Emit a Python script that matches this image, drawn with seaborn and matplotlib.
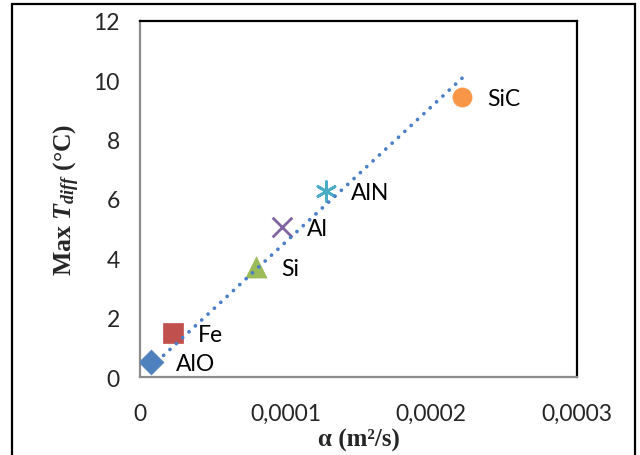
import numpy as np
import pandas as pd
import matplotlib
matplotlib.use("Agg")
import matplotlib.pyplot as plt
from matplotlib.patches import Rectangle
from matplotlib.ticker import FuncFormatter, MultipleLocator
import seaborn as sns

# Thermal diffusivity (m^2/s) and maximum temperature difference (degC)
materials = ["AlO", "Fe", "Si", "Al", "AlN", "SiC"]
alpha = [7.5e-6, 22.4e-6, 79.6e-6, 97.3e-6, 127.7e-6, 221.2e-6]
max_tdiff = [0.52, 1.48, 3.72, 5.05, 6.28, 9.44]

colors = ["#4F81BD", "#C0504D", "#9BBB59", "#8064A2", "#4BACC6", "#F79646"]
markers = ["D", "s", "^", "x", (6, 2, 0), "o"]
marker_sizes = [160, 220, 230, 200, 200, 190]

df = pd.DataFrame({"material": materials, "alpha": alpha, "tdiff": max_tdiff})

sns.set_style("white")
plt.rcParams["font.family"] = ["Lato", "DejaVu Sans"]
plt.rcParams["mathtext.fontset"] = "custom"
plt.rcParams["mathtext.rm"] = "Liberation Serif:bold"
plt.rcParams["mathtext.it"] = "Liberation Serif:italic:bold"
plt.rcParams["mathtext.bf"] = "Liberation Serif:bold"
plt.rcParams["mathtext.bfit"] = "Liberation Serif:italic:bold"

fig = plt.figure(figsize=(6.4, 4.56), dpi=100)
ax = fig.add_axes([140 / 640, 1 - 378.3 / 456, (577 - 140) / 640, (378.3 - 21.7) / 456])

for i, row in df.iterrows():
    line_art = markers[i] == "x" or isinstance(markers[i], tuple)
    sns.scatterplot(
        x=[row["alpha"]], y=[row["tdiff"]], ax=ax,
        marker=markers[i], s=marker_sizes[i],
        color=colors[i],
        edgecolor=colors[i] if not line_art else None,
        linewidth=2.0 if line_art else 0.5,
        legend=False, zorder=3,
    )
    ax.annotate(row["material"], (row["alpha"], row["tdiff"]),
                xytext=(18, -1), textcoords="offset points",
                ha="left", va="center", fontsize=16.5, color="black",
                family=["Lato", "DejaVu Sans"])

# Linear trend forced through the origin, drawn over the data range
x_arr = np.asarray(alpha)
y_arr = np.asarray(max_tdiff)
slope = np.sum(x_arr * y_arr) / np.sum(x_arr ** 2)
trend_x = np.array([x_arr.min(), x_arr.max()])
ax.plot(trend_x, slope * trend_x, color="#4A7EC8", lw=2.7,
        linestyle=(0, (0.01, 2.3)), dash_capstyle="round", zorder=4)

ax.set_xlim(0, 0.0003)
ax.set_ylim(0, 12)
ax.xaxis.set_major_locator(MultipleLocator(0.0001))
ax.yaxis.set_major_locator(MultipleLocator(2))


def comma_fmt(v, pos):
    if abs(v) < 1e-12:
        return "0"
    return f"{v:.4f}".replace(".", ",")


ax.xaxis.set_major_formatter(FuncFormatter(comma_fmt))
ax.yaxis.set_major_formatter(FuncFormatter(lambda v, p: f"{v:.0f}"))

ax.tick_params(axis="both", which="major", labelsize=16.5, direction="out",
               length=6.5, width=1.4, color="#8C8C8C")
ax.tick_params(axis="x", pad=12)
ax.tick_params(axis="y", pad=8)

for side in ("left", "bottom"):
    ax.spines[side].set_color("#8C8C8C")
    ax.spines[side].set_linewidth(1.6)
for side in ("top", "right"):
    ax.spines[side].set_color("black")
    ax.spines[side].set_linewidth(1.6)
    ax.spines[side].set_visible(True)

ax.set_xlabel("α (m²/s)", fontsize=18, fontweight="bold",
              family="Liberation Serif", labelpad=3)
ax.set_ylabel(r"Max $\mathbfit{T}_{\mathbfit{diff}}$ (°C)", fontsize=18.5,
              fontweight="bold", family="Liberation Serif", labelpad=8)

# Outer frame around the chart
fig.patches.append(Rectangle((12 / 640, -0.05), (635 - 12) / 640, 1.05 - 5 / 456,
                             transform=fig.transFigure, fill=False,
                             edgecolor="black", linewidth=1.6))

fig.savefig("out.png", dpi=100)
